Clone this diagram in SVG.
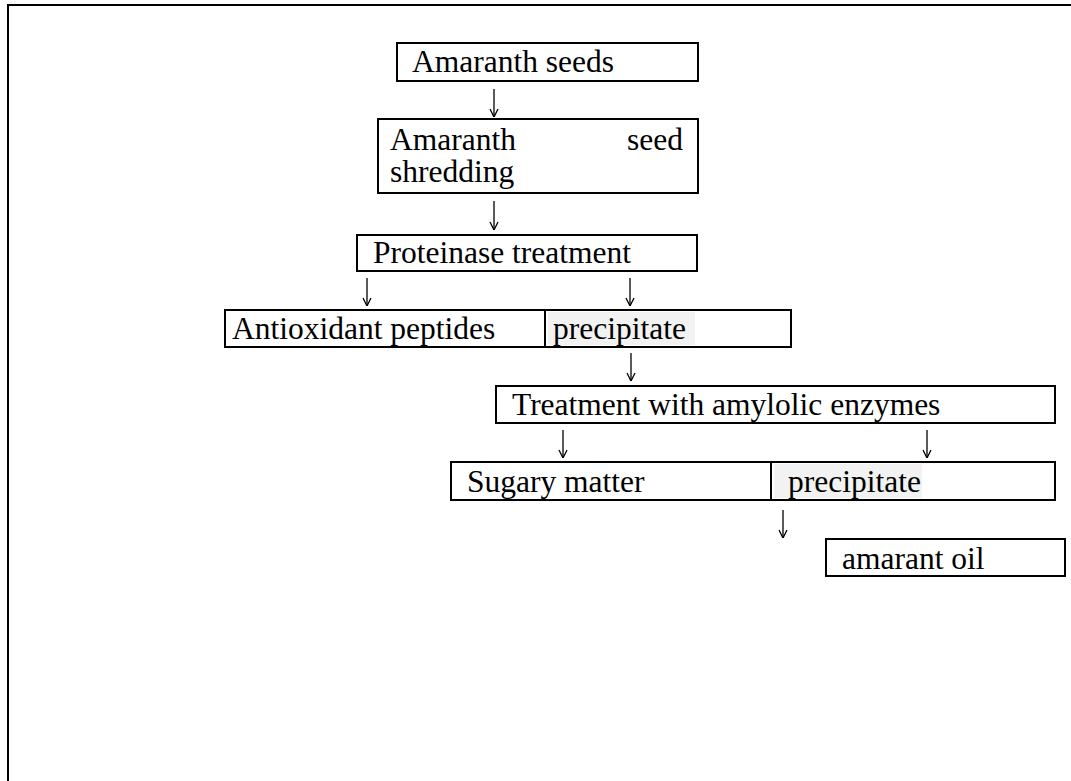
<svg xmlns="http://www.w3.org/2000/svg" width="1071" height="781" viewBox="0 0 1071 781">
<style>
.box{fill:none;stroke:#000;stroke-width:2}
.t{font-family:'Liberation Serif','DejaVu Serif',serif;font-size:31.5px;fill:#000}
.arr{stroke:#000;stroke-width:1.3;fill:none}
.hl{fill:#f2f2f2}
</style>
<defs>
<marker id="ah" viewBox="0 0 10 10" refX="10" refY="5" markerWidth="10" markerHeight="10" markerUnits="userSpaceOnUse" orient="auto">
<path d="M2,1 L10,5 L2,9" fill="none" stroke="#000" stroke-width="1.3"/>
</marker>
</defs>
<rect width="1071" height="781" fill="#fff"/>
<path d="M8,781 V5 H1071" fill="none" stroke="#000" stroke-width="2"/>
<g id="n1"><rect class="box" x="397" y="43" width="301" height="38"/><text class="t" x="412" y="72">Amaranth seeds</text></g>
<g id="n2"><rect class="box" x="378" y="119" width="320" height="74"/><text class="t" x="390" y="150">Amaranth</text><text class="t" x="683" y="150" text-anchor="end">seed</text><text class="t" x="390" y="182">shredding</text></g>
<g id="n3"><rect class="box" x="357" y="235" width="340" height="36"/><text class="t" x="373" y="263">Proteinase treatment</text></g>
<g id="n4"><rect class="hl" x="548" y="312" width="147" height="33"/><rect class="box" x="225" y="310" width="566" height="37"/><line x1="545" y1="310" x2="545" y2="347" stroke="#000" stroke-width="2"/><text class="t" x="232" y="339">Antioxidant peptides</text><text class="t" x="553" y="339">precipitate</text></g>
<g id="n5"><rect class="box" x="496" y="386" width="559" height="37"/><text class="t" x="512" y="415">Treatment with amylolic enzymes</text></g>
<g id="n6"><rect class="hl" x="774" y="464" width="148" height="34"/><rect class="box" x="451" y="462" width="604" height="38"/><line x1="771" y1="462" x2="771" y2="500" stroke="#000" stroke-width="2"/><text class="t" x="467" y="492">Sugary matter</text><text class="t" x="788" y="492">precipitate</text></g>
<g id="n7"><rect class="box" x="826" y="539" width="239" height="37"/><text class="t" x="842" y="569">amarant oil</text></g>
<g id="connectors">
<line class="arr" x1="494" y1="89" x2="494" y2="117" marker-end="url(#ah)"/>
<line class="arr" x1="494" y1="201" x2="494" y2="230" marker-end="url(#ah)"/>
<line class="arr" x1="367" y1="278" x2="367" y2="306" marker-end="url(#ah)"/>
<line class="arr" x1="630" y1="278" x2="630" y2="306" marker-end="url(#ah)"/>
<line class="arr" x1="631" y1="353" x2="631" y2="381" marker-end="url(#ah)"/>
<line class="arr" x1="563" y1="430" x2="563" y2="458" marker-end="url(#ah)"/>
<line class="arr" x1="927" y1="430" x2="927" y2="458" marker-end="url(#ah)"/>
<line class="arr" x1="783" y1="510" x2="783" y2="538" marker-end="url(#ah)"/>
</g>
</svg>
